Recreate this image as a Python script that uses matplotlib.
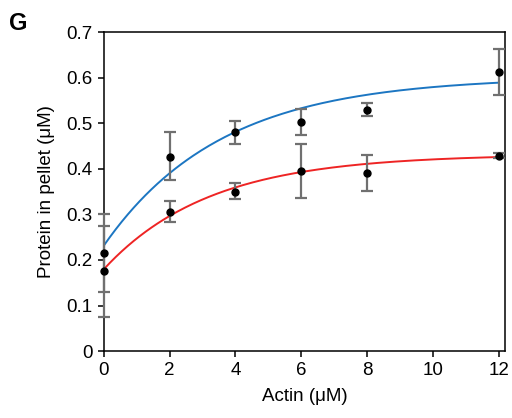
import numpy as np
import matplotlib.pyplot as plt

plt.rcParams['font.family'] = ['Liberation Sans', 'DejaVu Sans']

actin = [0, 2, 4, 6, 8, 12]
blue_y = [0.215, 0.427, 0.480, 0.503, 0.530, 0.613]
blue_lo = [0.129, 0.376, 0.455, 0.475, 0.515, 0.563]
blue_hi = [0.300, 0.480, 0.505, 0.531, 0.545, 0.664]
red_y = [0.175, 0.305, 0.350, 0.395, 0.391, 0.429]
red_lo = [0.075, 0.283, 0.333, 0.335, 0.351, 0.423]
red_hi = [0.275, 0.329, 0.370, 0.454, 0.430, 0.435]

# fitted curves: y = base + amp * (1 - exp(-rate * x))
blue_fit = (0.232, 0.370, 0.280)
red_fit = (0.180, 0.252, 0.311)


def fit_curve(x, p):
    base, amp, rate = p
    return base + amp * (1 - np.exp(-rate * x))


fig = plt.figure(figsize=(5.12, 4.18), dpi=100)
ax = fig.add_axes([0.203, 0.160, 0.783, 0.763])

xs = np.linspace(0, 12, 200)
ax.plot(xs, fit_curve(xs, blue_fit), color='#1c76c2', lw=1.4, zorder=2)
ax.plot(xs, fit_curve(xs, red_fit), color='#ee2424', lw=1.4, zorder=2)

for y, lo, hi in [(blue_y, blue_lo, blue_hi), (red_y, red_lo, red_hi)]:
    y = np.array(y)
    err = [y - np.array(lo), np.array(hi) - y]
    ax.errorbar(actin, y, yerr=err, fmt='none', ecolor='#707070',
                elinewidth=1.6, capsize=4, capthick=1.6, zorder=3,
                clip_on=False)
    ax.plot(actin, y, 'o', color='black', ms=5, zorder=4, clip_on=False)

ax.set_xlim(0, 12.19)
ax.set_ylim(0, 0.7)
ax.set_xticks([0, 2, 4, 6, 8, 10, 12])
ax.set_yticks(np.arange(0, 0.71, 0.1))
ax.set_yticklabels(['0', '0.1', '0.2', '0.3', '0.4', '0.5', '0.6', '0.7'])
ax.tick_params(direction='out', length=4, width=1.1, labelsize=13.5,
               pad=4)
for s in ax.spines.values():
    s.set_linewidth(1.1)

ax.set_xlabel('Actin (μM)', fontsize=13.5, labelpad=6)
ax.set_ylabel('Protein in pellet (μM)', fontsize=13.5, labelpad=8)
fig.text(0.018, 0.944, 'G', fontsize=17, fontweight='bold', va='center')

fig.savefig('out.png', dpi=100)
